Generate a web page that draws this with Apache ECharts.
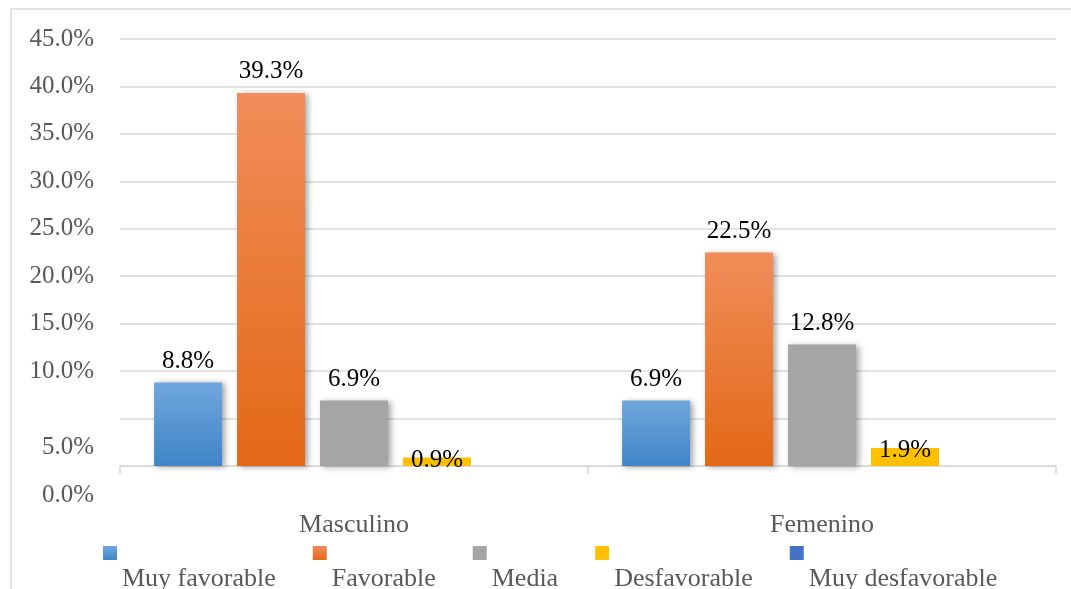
<!DOCTYPE html>
<html>
<head>
<meta charset="utf-8">
<script src="https://cdn.jsdelivr.net/npm/echarts@6/dist/echarts.min.js"></script>
<style>
html,body{margin:0;padding:0;background:#fff;}
#chart{width:1071px;height:589px;}
</style>
</head>
<body>
<div id="chart"></div>
<script>
const categories = ['Masculino', 'Femenino'];
const seriesNames = ['Muy favorable', 'Favorable', 'Media', 'Desfavorable', 'Muy desfavorable'];
const muyFavorable = [8.8, 6.9];
const favorable = [39.3, 22.5];
const media = [6.9, 12.8];
const desfavorable = [0.9, 1.9];
const muyDesfavorable = [0, 0];

const FONT = "'Liberation Serif', 'Times New Roman', serif";

function grad(top, bottom) {
  return new echarts.graphic.LinearGradient(0, 0, 0, 1, [
    { offset: 0, color: top },
    { offset: 1, color: bottom }
  ]);
}

const styles = [
  { color: grad('#70a7dd', '#3f85c7'), label: [0, 0] },
  { color: grad('#f18d5a', '#e36816'), label: [0, 0] },
  { color: '#a5a5a5', label: [0, 0] },
  { color: '#ffc000', label: [0, 24] },
  { color: '#4472c4', label: [0, 0] }
];
const values = [muyFavorable, favorable, media, desfavorable, muyDesfavorable];

const series = seriesNames.map((name, i) => ({
  name: name,
  type: 'bar',
  data: values[i],
  yAxisIndex: 0,
  barWidth: 68,
  barGap: '22%',
  itemStyle: {
    color: styles[i].color,
    shadowColor: i === 3 ? 'rgba(0,0,0,0)' : 'rgba(0,0,0,0.35)',
    shadowBlur: 6,
    shadowOffsetX: 3,
    shadowOffsetY: 1
  },
  label: {
    show: true,
    position: 'top',
    distance: 9,
    offset: styles[i].label,
    color: '#000',
    fontFamily: FONT,
    fontSize: 25,
    formatter: p => p.value === 0 ? '' : p.value.toFixed(1) + '%'
  }
}));

const pct = v => v.toFixed(1) + '%';
function yAxisDef(extra) {
  return Object.assign({
    type: 'value',
    position: 'left',
    offset: 0,
    min: 0,
    max: 45,
    interval: 5,
    axisLine: { show: false },
    axisTick: { show: false },
    splitLine: { show: false }
  }, extra);
}
const labelBase = { margin: 26, color: '#595959', fontFamily: FONT, fontSize: 25 };

const chart = echarts.init(document.getElementById('chart'));
chart.setOption({
  animation: false,
  backgroundColor: '#fff',
  graphic: [{
    type: 'rect',
    shape: { x: 11, y: 9, width: 1100, height: 700 },
    style: { fill: 'none', stroke: '#d9d9d9', lineWidth: 1.5 },
    silent: true
  }],
  grid: { left: 120, right: 15, top: 39, bottom: 123, containLabel: false },
  legend: {
    data: seriesNames,
    left: 103,
    top: 501,
    padding: 0,
    itemWidth: 14,
    itemHeight: 14,
    itemGap: 37,
    itemStyle: { shadowBlur: 0, shadowColor: 'rgba(0,0,0,0)', shadowOffsetX: 0, shadowOffsetY: 0 },
    icon: 'rect',
    formatter: name => '\n' + name,
    textStyle: { fontFamily: FONT, fontSize: 26, color: '#595959', lineHeight: 52 }
  },
  xAxis: {
    type: 'category',
    data: categories,
    axisLine: { lineStyle: { color: '#d9d9d9', width: 1.5 } },
    axisTick: { show: true, length: 8, lineStyle: { color: '#d9d9d9', width: 1.5 } },
    axisLabel: { margin: 46, color: '#595959', fontFamily: FONT, fontSize: 26 }
  },
  yAxis: [
    yAxisDef({
      splitLine: { show: true, lineStyle: { color: '#d9d9d9', width: 1.5 } },
      axisLabel: Object.assign({}, labelBase, {
        showMaxLabel: true,
        formatter: v => v >= 10 ? pct(v) : ''
      })
    }),
    yAxisDef({
      axisLabel: Object.assign({}, labelBase, {
        lineHeight: 58,
        formatter: v => v === 5 ? '\n' + pct(v) : ''
      })
    }),
    yAxisDef({
      axisLabel: Object.assign({}, labelBase, {
        lineHeight: 58,
        showMinLabel: true,
        formatter: v => v === 0 ? '\n' + pct(v) : ''
      })
    })
  ],
  series: series
});
</script>
</body>
</html>
